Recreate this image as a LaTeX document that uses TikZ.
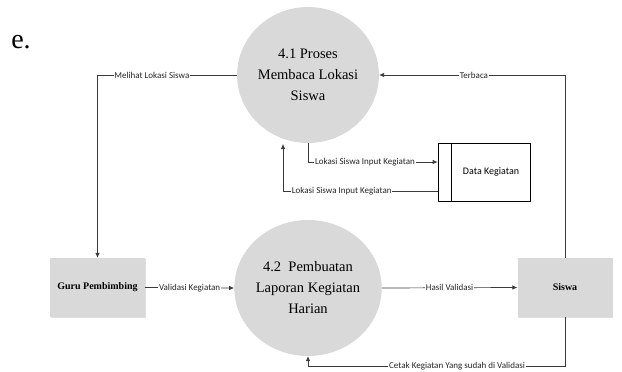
\documentclass[tikz,border=0pt]{standalone}
\usepackage{fontspec}
\setmainfont{Liberation Serif}
\newfontfamily\procfont{Liberation Serif}
\newfontfamily\lblfont{Carlito}
\usetikzlibrary{arrows.meta,shapes.geometric,shadows}
\definecolor{procgray}{HTML}{D9D9D9}
\definecolor{linegray}{HTML}{3A3A3A}
\tikzset{
  proc/.style={ellipse, fill=procgray, minimum width=120pt, minimum height=136pt, inner sep=0pt,
    align=center, font=\procfont\fontsize{14.5}{21}\selectfont},
  entity/.style={rectangle, fill=procgray, minimum width=95pt, minimum height=59pt, inner sep=0pt,
    font=\procfont\fontsize{10}{12}\selectfont\bfseries,
    drop shadow={shadow xshift=0.8pt, shadow yshift=-1.2pt, fill=black!25, opacity=0.5}},
  flow/.style={draw=linegray, line width=0.7pt},
  arr/.style={flow, -{Latex[length=5pt,width=4.5pt]}},
  lbl/.style={fill=white, inner sep=0.8pt, text=black!85, font=\lblfont\fontsize{9}{10}\selectfont}
}
\begin{document}
\begin{tikzpicture}[x=1pt,y=-1pt]
\useasboundingbox (0,0) rectangle (622,372);
% title letter
\node[anchor=center, font=\procfont\fontsize{28}{30}\selectfont] (title) at (21,42) {e.};
% processes
\node[proc] (c1) at (308,75) {4.1 Proses\\Membaca Lokasi\\Siswa};
\node[proc] (c2) at (308,288) {4.2\ \ Pembuatan\\Laporan Kegiatan\\Harian};
% entities
\node[entity] (guru) at (97.5,287.5) {Guru Pembimbing};
\node[entity] (siswa) at (565,287.5) {Siswa};
% data store
\node[rectangle, draw=black, fill=white, line width=0.7pt, minimum width=92pt, minimum height=58pt, inner sep=0pt] (store) at (484,172) {};
\draw[line width=0.7pt] ([xshift=14pt]store.north west) -- ([xshift=14pt]store.south west);
\node[font=\lblfont\fontsize{10}{12}\selectfont] (storelbl) at (491,172) {Data Kegiatan};
% coordinates for free ends
\coordinate (l2end) at (283,144);
% connectors
\draw[arr] (c1.west) -| node[lbl, pos=0.305] {Melihat Lokasi Siswa} (guru.north);
\draw[arr] (siswa.north) |- node[lbl, pos=0.745] {Terbaca} (c1.east);
\draw[arr] (c1.south) |- node[lbl, pos=0.72] {Lokasi Siswa Input Kegiatan} ([yshift=10pt]store.west);
\draw[arr] ([yshift=-19pt]store.west) -| node[lbl, pos=0.31] {Lokasi Siswa Input Kegiatan} (l2end);
\draw[arr] (guru.east) -- node[lbl, pos=0.5] {Validasi Kegiatan} (c2.west);
\draw[arr] (c2.east) -- node[lbl, pos=0.5] {Hasil Validasi} (siswa.west);
\draw[arr] (siswa.south) -- ++(0,49) -| node[lbl, pos=0.21] {Cetak Kegiatan Yang sudah di Validasi} (c2.south);
\end{tikzpicture}
\end{document}
